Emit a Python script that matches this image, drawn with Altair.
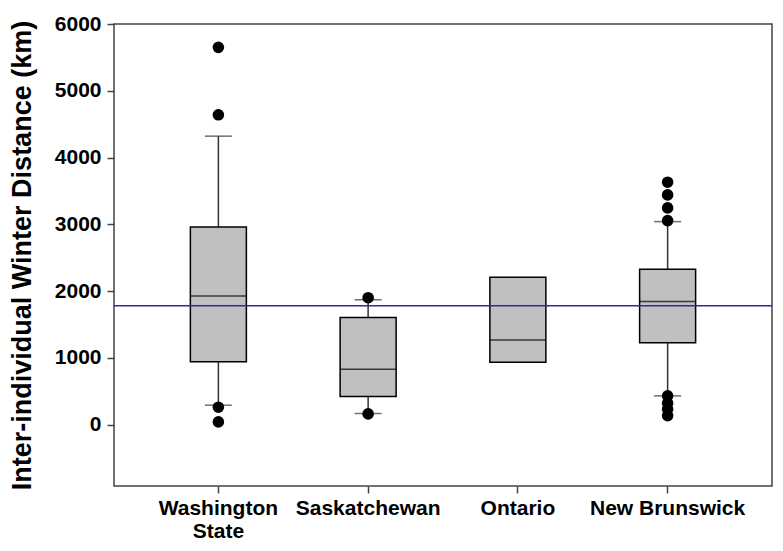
import altair as alt
import pandas as pd

categories = ["Washington State", "Saskatchewan", "Ontario", "New Brunswick"]
q1 = [940, 420, 935, 1225]
median = [1925, 830, 1265, 1845]
q3 = [2960, 1605, 2205, 2325]
whisker_low = [290, 165, None, 430]
whisker_high = [4320, 1870, None, 3040]

outlier_cat = ["Washington State"] * 4 + ["Saskatchewan"] * 2 + ["New Brunswick"] * 8
outlier_val = [5650, 4640, 260, 40, 1900, 160,
               3630, 3440, 3245, 3055, 430, 320, 230, 135]

reference_line = 1780

y_ticks = [0, 1000, 2000, 3000, 4000, 5000, 6000]

df = pd.DataFrame({"cat": categories, "q1": q1, "median": median, "q3": q3,
                   "wlow": whisker_low, "whigh": whisker_high})
dw = df.dropna()
dout = pd.DataFrame({"cat": outlier_cat, "val": outlier_val})
dline = pd.DataFrame({"y": [reference_line]})

FONT = "Liberation Sans"
TITLE = "Inter-individual Winter Distance (km)"
yscale = alt.Scale(domain=[-920, 6000], nice=False, zero=False)
yaxis = alt.Axis(values=y_ticks, format="d", grid=False, labelFont=FONT, labelFontSize=21,
                 labelFontWeight="bold", labelColor="black", labelPadding=6,
                 tickSize=7, title=TITLE, titleFont=FONT, titleFontSize=27,
                 titleFontWeight="bold", titleColor="black", titlePadding=18)


def Y(field):
    return alt.Y(f"{field}:Q", scale=yscale, axis=yaxis, title=TITLE)


xenc = alt.X("cat:N", sort=categories,
             scale=alt.Scale(paddingInner=0, paddingOuter=0.197),
             axis=alt.Axis(title=None, labelAngle=0, labelFont=FONT, labelFontSize=21,
                           labelFontWeight="bold", labelColor="black", tickSize=7,
                           labelPadding=4, labelLineHeight=23, labelBaseline="top",
                           labelExpr="datum.value == 'Washington State' ? ['Washington', 'State'] : datum.value"))

base = alt.Chart(df)
whisk_lo = alt.Chart(dw).mark_rule(color="#333333", strokeWidth=1.5).encode(
    x=xenc, y=Y("wlow"), y2="q1:Q")
whisk_hi = alt.Chart(dw).mark_rule(color="#333333", strokeWidth=1.5).encode(
    x=xenc, y=Y("q3"), y2="whigh:Q")
cap_lo = alt.Chart(dw).mark_tick(color="#333333", size=27, thickness=1.5).encode(
    x=xenc, y=Y("wlow"))
cap_hi = alt.Chart(dw).mark_tick(color="#333333", size=27, thickness=1.5).encode(
    x=xenc, y=Y("whigh"))
box = base.mark_bar(size=56, color="#c0c0c0", stroke="black", strokeWidth=1.5).encode(
    x=xenc, y=Y("q1"), y2="q3:Q")
med = base.mark_tick(color="black", size=56, thickness=1.5).encode(
    x=xenc, y=Y("median"))
pts = alt.Chart(dout).mark_circle(size=135, color="black", opacity=1).encode(
    x=xenc, y=Y("val"))
hline = alt.Chart(dline).mark_rule(color="#2a2aaa", strokeWidth=1.5).encode(
    y=Y("y"))

chart = alt.layer(whisk_lo, whisk_hi, cap_lo, cap_hi, box, med, hline, pts).properties(
    width=658, height=462,
    autosize=alt.AutoSizeParams(type="none"),
    padding={"left": 106, "top": 16, "right": 3, "bottom": 57},
    background="white",
).configure_view(stroke="#444444", strokeWidth=1.5).configure_axis(
    domain=False, tickColor="#444444", tickWidth=1.5)

chart.save("out.html", embed_options={"renderer": "svg", "actions": False})
